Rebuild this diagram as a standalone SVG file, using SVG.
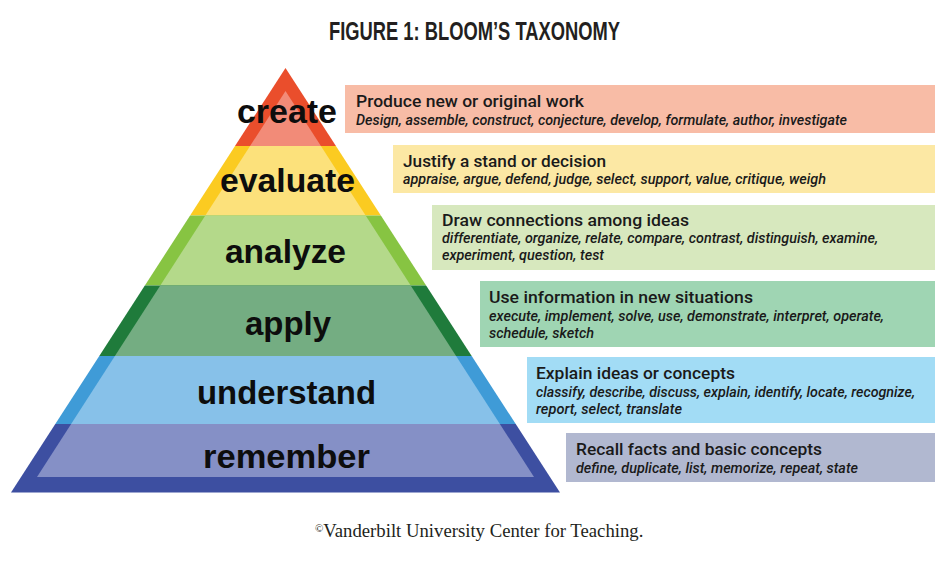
<svg xmlns="http://www.w3.org/2000/svg" width="951" height="562" viewBox="0 0 951 562">
<defs>
<clipPath id="outer"><polygon points="285.5,68 560,492.5 11,492.5"/></clipPath>
<clipPath id="inner"><polygon points="285.5,91 534,477 37,477"/></clipPath>
<style>
.lvl{font-family:"Liberation Sans",Arial,sans-serif;font-weight:bold;font-size:34px;fill:#0d0d0d;text-anchor:start}
.hd{font-family:Roboto,"Liberation Sans",sans-serif;font-weight:500;font-size:16.5px;fill:#1a1a1a}
.it{font-family:Roboto,"Liberation Sans",sans-serif;font-weight:500;font-style:italic;font-size:14px;fill:#1a1a1a}
.title{font-family:"Liberation Sans",Arial,sans-serif;font-weight:bold;font-size:25px;fill:#231f20}
.credit{font-family:"Liberation Serif","Times New Roman",serif;font-size:18px;fill:#231f20}
</style>
</defs>
<rect width="951" height="562" fill="#ffffff"/>
<text class="title" x="329" y="40" textLength="291" lengthAdjust="spacingAndGlyphs">FIGURE 1: BLOOM’S TAXONOMY</text>

<g id="level-create">
<rect x="0" y="60" width="600" height="86" fill="#EA4E2C" clip-path="url(#outer)"/>
<rect x="0" y="60" width="600" height="86" fill="#F28B78" clip-path="url(#inner)"/>
<text class="lvl" x="237" y="123" textLength="100" lengthAdjust="spacingAndGlyphs">create</text>
<rect x="345" y="85" width="590" height="48" fill="#F8BCA6"/>
<text class="hd" x="356" y="107" textLength="228" lengthAdjust="spacingAndGlyphs">Produce new or original work</text>
<text class="it" x="356" y="125" textLength="491" lengthAdjust="spacingAndGlyphs">Design, assemble, construct, conjecture, develop, formulate, author, investigate</text>
</g>

<g id="level-evaluate">
<rect x="0" y="146" width="600" height="69.5" fill="#FBCB21" clip-path="url(#outer)"/>
<rect x="0" y="146" width="600" height="69.5" fill="#FCE17B" clip-path="url(#inner)"/>
<text class="lvl" x="220" y="192" textLength="135" lengthAdjust="spacingAndGlyphs">evaluate</text>
<rect x="393" y="145" width="542" height="48" fill="#FCE8A4"/>
<text class="hd" x="403" y="167" textLength="203" lengthAdjust="spacingAndGlyphs">Justify a stand or decision</text>
<text class="it" x="403" y="184" textLength="423" lengthAdjust="spacingAndGlyphs">appraise, argue, defend, judge, select, support, value, critique, weigh</text>
</g>

<g id="level-analyze">
<rect x="0" y="215.5" width="600" height="70" fill="#87C442" clip-path="url(#outer)"/>
<rect x="0" y="215.5" width="600" height="70" fill="#B4D98A" clip-path="url(#inner)"/>
<text class="lvl" x="225" y="263" textLength="121" lengthAdjust="spacingAndGlyphs">analyze</text>
<rect x="432" y="205" width="503" height="65" fill="#D7E8BE"/>
<text class="hd" x="442" y="226" textLength="247" lengthAdjust="spacingAndGlyphs">Draw connections among ideas</text>
<text class="it" x="442" y="243" textLength="436" lengthAdjust="spacingAndGlyphs">differentiate, organize, relate, compare, contrast, distinguish, examine,</text>
<text class="it" x="442" y="260" textLength="162" lengthAdjust="spacingAndGlyphs">experiment, question, test</text>
</g>

<g id="level-apply">
<rect x="0" y="285.5" width="600" height="70.5" fill="#1F7B3B" clip-path="url(#outer)"/>
<rect x="0" y="285.5" width="600" height="70.5" fill="#74AD82" clip-path="url(#inner)"/>
<text class="lvl" x="245" y="335" textLength="86" lengthAdjust="spacingAndGlyphs">apply</text>
<rect x="480" y="281" width="455" height="66" fill="#9FD5B3"/>
<text class="hd" x="489" y="303" textLength="264" lengthAdjust="spacingAndGlyphs">Use information in new situations</text>
<text class="it" x="489" y="321" textLength="395" lengthAdjust="spacingAndGlyphs">execute, implement, solve, use, demonstrate, interpret, operate,</text>
<text class="it" x="489" y="338" textLength="105" lengthAdjust="spacingAndGlyphs">schedule, sketch</text>
</g>

<g id="level-understand">
<rect x="0" y="356" width="600" height="68" fill="#3F9BD7" clip-path="url(#outer)"/>
<rect x="0" y="356" width="600" height="68" fill="#87C1E9" clip-path="url(#inner)"/>
<text class="lvl" x="197" y="404" textLength="179" lengthAdjust="spacingAndGlyphs">understand</text>
<rect x="527" y="357" width="408" height="66" fill="#A2DCF5"/>
<text class="hd" x="536" y="379" textLength="199" lengthAdjust="spacingAndGlyphs">Explain ideas or concepts</text>
<text class="it" x="536" y="397" textLength="379" lengthAdjust="spacingAndGlyphs">classify, describe, discuss, explain, identify, locate, recognize,</text>
<text class="it" x="536" y="414" textLength="146" lengthAdjust="spacingAndGlyphs">report, select, translate</text>
</g>

<g id="level-remember">
<rect x="0" y="424" width="600" height="70" fill="#3D4FA1" clip-path="url(#outer)"/>
<rect x="0" y="424" width="600" height="70" fill="#8590C6" clip-path="url(#inner)"/>
<text class="lvl" x="203" y="468" textLength="167" lengthAdjust="spacingAndGlyphs">remember</text>
<rect x="566" y="433" width="369" height="49" fill="#B1B8D0"/>
<text class="hd" x="576" y="455" textLength="246" lengthAdjust="spacingAndGlyphs">Recall facts and basic concepts</text>
<text class="it" x="576" y="473" textLength="282" lengthAdjust="spacingAndGlyphs">define, duplicate, list, memorize, repeat, state</text>
</g>

<g id="connectors"/>

<text class="credit" x="315" y="537"><tspan font-size="11" dy="-5">©</tspan><tspan dy="5" textLength="320" lengthAdjust="spacingAndGlyphs">Vanderbilt University Center for Teaching.</tspan></text>
</svg>
